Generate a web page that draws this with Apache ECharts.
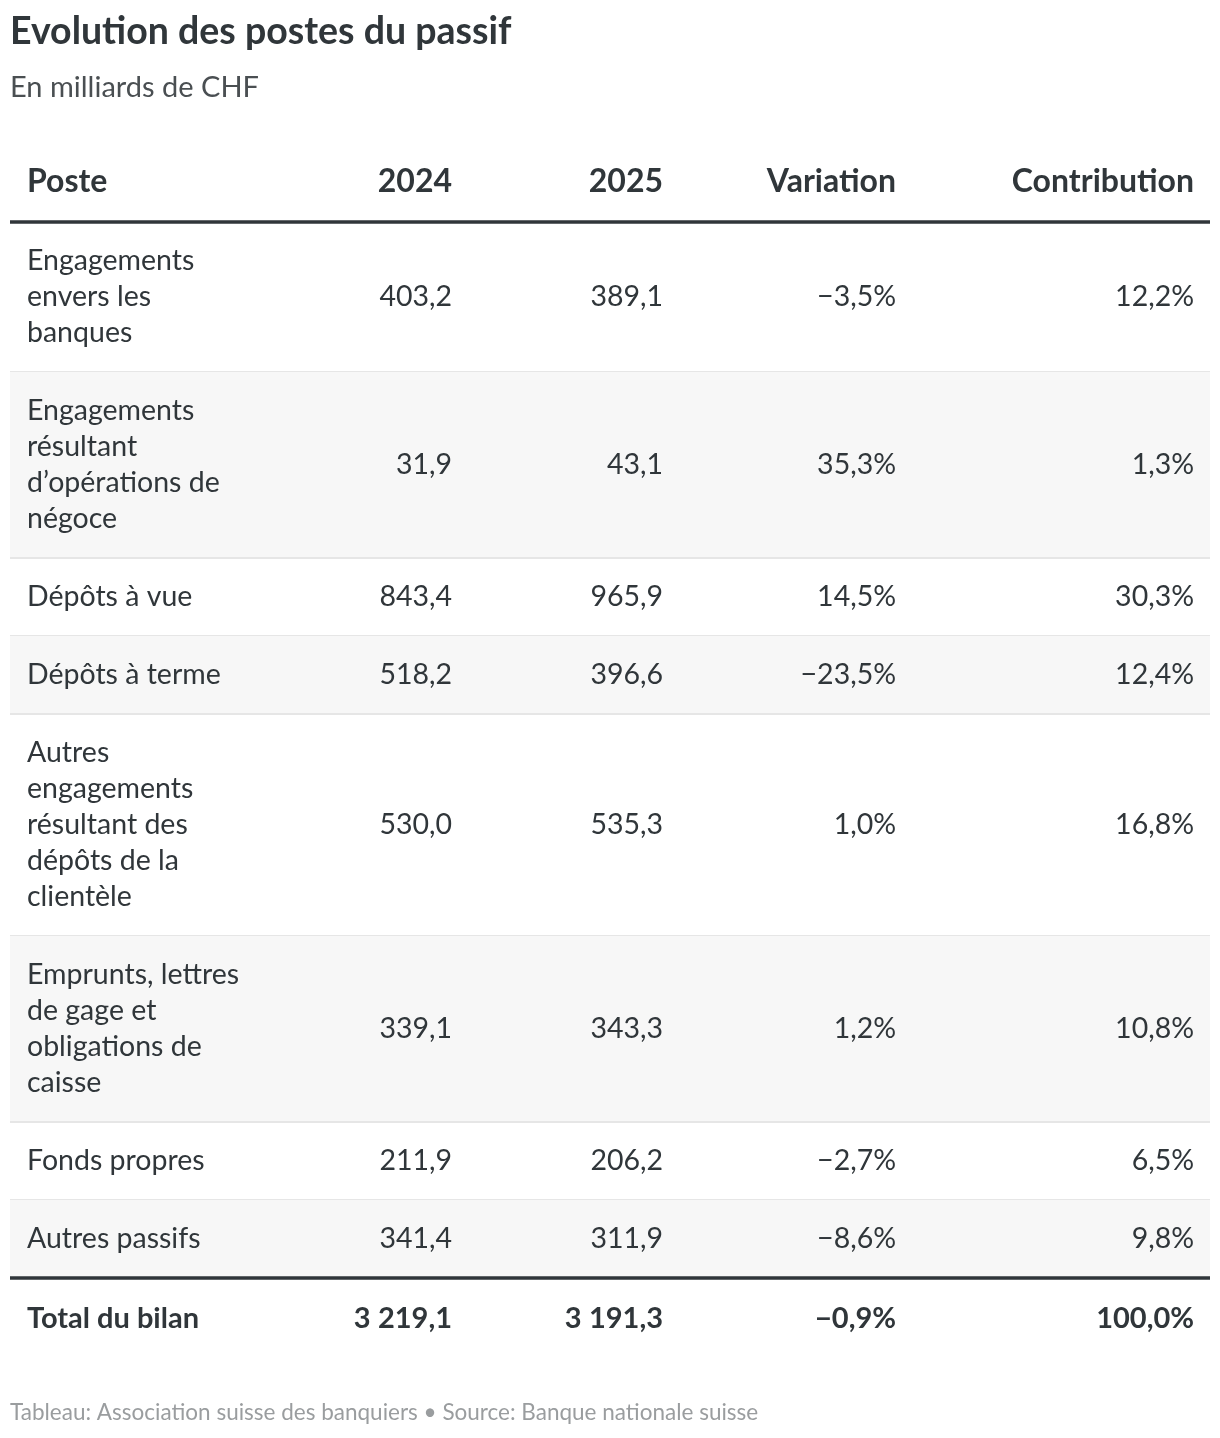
<!DOCTYPE html>
<html>
<head>
<meta charset="utf-8">
<title>Evolution des postes du passif</title>
<script src="https://cdn.jsdelivr.net/npm/echarts@6/dist/echarts.min.js"></script>
<style>
  html, body { margin: 0; padding: 0; background: #fff; }
  #chart { width: 1220px; height: 1438px; }
</style>
</head>
<body>
<div id="chart"></div>
<script>
// données du tableau
var headers = ['Poste', '2024', '2025', 'Variation', 'Contribution'];
var postes = [
  'Engagements\nenvers les\nbanques',
  'Engagements\nrésultant\nd\u2019opérations de\nnégoce',
  'Dépôts à vue',
  'Dépôts à terme',
  'Autres\nengagements\nrésultant des\ndépôts de la\nclientèle',
  'Emprunts, lettres\nde gage et\nobligations de\ncaisse',
  'Fonds propres',
  'Autres passifs'
];
var val2024 = [403.2, 31.9, 843.4, 518.2, 530.0, 339.1, 211.9, 341.4];
var val2025 = [389.1, 43.1, 965.9, 396.6, 535.3, 343.3, 206.2, 311.9];
var variation = [-3.5, 35.3, 14.5, -23.5, 1.0, 1.2, -2.7, -8.6];
var contribution = [12.2, 1.3, 30.3, 12.4, 16.8, 10.8, 6.5, 9.8];
var totalRow = ['Total du bilan', 3219.1, 3191.3, -0.9, 100.0];

var FONT = 'Lato';
var TEXT = '#30363a';
var LINE_H = 36;

// bord gauche du texte / bords droits des colonnes numériques (unités de l'axe x)
var colX = [17, 442, 653, 886, 1184];

function fmt(v) {
  var s = Math.abs(v).toFixed(1).split('.');
  var ent = s[0].replace(/\B(?=(\d{3})+(?!\d))/g, '\u202f');
  return (v < 0 ? '\u2212' : '') + ent + ',' + s[1];
}
function pct(v) { return fmt(v) + '%'; }

// hauteur des lignes selon le nombre de lignes de texte
var rows = [];
var y = 0;
rows.push({ kind: 'header', top: y, h: 81, cells: headers });
y += 81;
for (var i = 0; i < postes.length; i++) {
  var n = postes[i].split('\n').length;
  var h = 42 + LINE_H * n;
  rows.push({
    kind: 'body', top: y, h: h, odd: i % 2 === 1,
    cells: [postes[i], fmt(val2024[i]), fmt(val2025[i]), pct(variation[i]), pct(contribution[i])]
  });
  y += h;
}
rows.push({
  kind: 'total', top: y, h: 82,
  cells: [totalRow[0], fmt(totalRow[1]), fmt(totalRow[2]), pct(totalRow[3]), pct(totalRow[4])]
});
y += 82;
var TABLE_H = y;

function renderRow(params, api) {
  var r = rows[api.value(0)];
  var p0 = api.coord([0, r.top]);
  var p1 = api.coord([1200, r.top + r.h]);
  var x0 = p0[0], y0 = p0[1], x1 = p1[0], y1 = p1[1];
  var cy = (y0 + y1) / 2;
  var bold = r.kind !== 'body';
  var size = r.kind === 'header' ? 32 : (r.kind === 'total' ? 29 : 28.5);
  var children = [];

  if (r.kind === 'body' && r.odd) {
    children.push({ type: 'rect', shape: { x: x0, y: y0, width: x1 - x0, height: y1 - y0 }, style: { fill: '#f7f7f7' } });
  }
  for (var c = 0; c < r.cells.length; c++) {
    var px = api.coord([colX[c], 0])[0];
    children.push({
      type: 'text',
      style: {
        text: r.cells[c],
        x: px, y: cy,
        align: c === 0 ? 'left' : 'right',
        verticalAlign: 'middle',
        fontFamily: FONT,
        fontSize: size,
        fontWeight: bold ? 'bold' : 'normal',
        lineHeight: LINE_H,
        fill: TEXT
      }
    });
  }
  if (r.kind === 'header') {
    children.push({ type: 'line', shape: { x1: x0, y1: y1, x2: x1, y2: y1 }, style: { stroke: '#30363a', lineWidth: 3.5 } });
  } else if (r.kind === 'body') {
    var last = api.value(0) === postes.length;
    children.push({
      type: 'line',
      shape: { x1: x0, y1: y1, x2: x1, y2: y1 },
      style: last ? { stroke: '#30363a', lineWidth: 3.5 } : { stroke: '#e6e6e6', lineWidth: 2 }
    });
  }
  return { type: 'group', children: children };
}

var chart = echarts.init(document.getElementById('chart'), null, { renderer: 'canvas' });

chart.setOption({
  backgroundColor: '#fff',
  animation: false,
  title: [{
    text: 'Evolution des postes du passif',
    subtext: 'En milliards de CHF',
    left: 10, top: 13,
    padding: 0,
    itemGap: 22,
    textStyle: { fontFamily: FONT, fontSize: 37.5, fontWeight: 'bold', color: TEXT },
    subtextStyle: { fontFamily: FONT, fontSize: 29, color: '#4a4f52' }
  }, {
    text: 'Tableau: Association suisse des banquiers \u2022 Source: Banque nationale suisse',
    left: 10, top: 1401,
    padding: 0,
    textStyle: { fontFamily: FONT, fontSize: 22.5, fontWeight: 'normal', color: '#9a9d9f' }
  }],
  grid: { left: 10, top: 141, width: 1200, height: TABLE_H },
  xAxis: { type: 'value', min: 0, max: 1200, show: false },
  yAxis: { type: 'value', min: 0, max: TABLE_H, inverse: true, show: false },
  series: [{
    type: 'custom',
    renderItem: renderRow,
    data: rows.map(function (r, i) { return [i]; }),
    encode: { x: -1, y: -1 },
    silent: true
  }]
});
</script>
</body>
</html>
